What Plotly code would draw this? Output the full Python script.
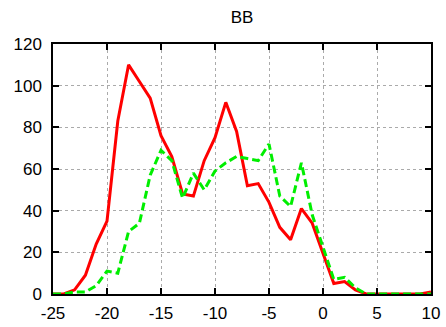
import plotly.graph_objects as go

x_vals = list(range(-25, 11))
red_vals = [0, 0, 2, 9, 24, 35, 83, 110, 102, 94, 76, 66, 48, 47, 64, 75, 92, 78, 52, 53, 44, 32, 26, 41, 34, 20, 5, 6, 2, 0, 0, 0, 0, 0, 0, 1]
green_vals = [0, 0, 1, 1, 4, 11, 10, 30, 34, 57, 69, 64, 46, 58, 50, 59, 63, 66, 65, 64, 72, 47, 42, 63, 38, 22, 7, 8, 3, 0, 0, 0, 0, 0, 0, 0]
x_ticks = [-25, -20, -15, -10, -5, 0, 5, 10]
x_tick_labels = ["-25", "-20", "-15", "-10", "-5", "0", "5", "10"]
y_ticks = [0, 20, 40, 60, 80, 100, 120]

fig = go.Figure()
fig.add_trace(go.Scatter(x=x_vals, y=red_vals, mode="lines",
                         line=dict(color="#ff0000", width=3), showlegend=False))
fig.add_trace(go.Scatter(x=x_vals, y=green_vals, mode="lines",
                         line=dict(color="#00ee00", width=3, dash="8px,4px"), showlegend=False))

axis_common = dict(showline=True, linecolor="black", linewidth=1.5, mirror="ticks",
                   ticks="inside", ticklen=6, tickcolor="black", tickwidth=1.5,
                   showgrid=True, gridcolor="#aaaaaa", griddash="dot", gridwidth=1,
                   zeroline=False, tickfont=dict(family="Liberation Sans, Arial", size=17, color="black"))

fig.update_xaxes(range=[-25, 10], tickvals=x_ticks, ticktext=x_tick_labels, ticklabelstandoff=3, **axis_common)
fig.update_yaxes(range=[0, 120], tickvals=y_ticks, ticklabelstandoff=6, **axis_common)

fig.update_layout(
    width=446, height=327,
    margin=dict(l=53, r=15, t=44, b=33, autoexpand=False),
    plot_bgcolor="white", paper_bgcolor="white",
    title=dict(text="BB", x=0.5, xanchor="center", xref="paper", y=1 - 17 / 327, yanchor="middle",
               font=dict(family="Liberation Sans, Arial", size=17, color="black")),
)

fig.write_html("out.html")
